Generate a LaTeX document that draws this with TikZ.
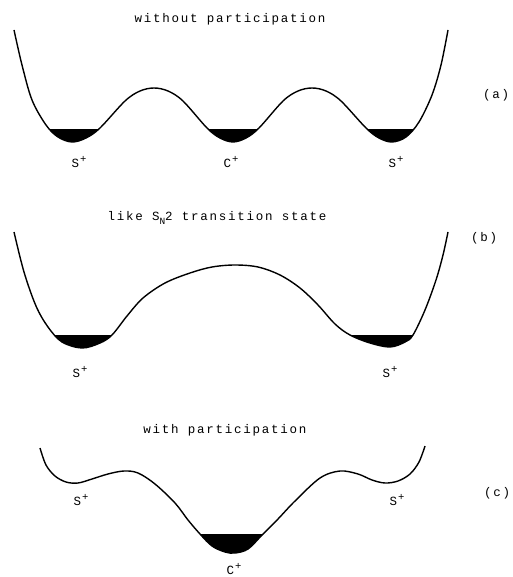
\documentclass[tikz,border=0pt]{standalone}
\usepackage{fontspec}
\usepackage{tikz}
\newfontfamily\labfont[LetterSpace=14]{Liberation Mono}
\newcommand{\cation}[1]{#1\kern1pt\raisebox{0.85ex}{\fontsize{10.5}{10.5}\selectfont+}}
% the three energy profiles
\newcommand{\wellA}{plot[smooth,tension=0.55] coordinates {(14,30) (22,65) (32,100) (46,125) (58,137) (72,142) (86,138) (100,128) (125,101) (140,91) (154,88) (168,91) (183,101) (207,128) (220,138) (233,142) (246,138) (259,128) (283,101) (298,91) (312,88) (326,91) (341,101) (366,128) (379,138) (392,142) (406,137) (419,122) (432,95) (441,65) (448,30)}}
\newcommand{\wellB}{plot[smooth,tension=0.55] coordinates {(14,232) (24,272) (36,306) (48,327) (62,342) (82,348) (100,343) (112,335) (127,316) (143,298) (165,283) (190,273) (212,267) (235,265) (258,267) (280,275) (300,288) (318,305) (335,324) (350,335) (370,343) (390,347) (405,342) (413,335) (425,310) (436,280) (443,255) (448,232)}}
\newcommand{\wellC}{plot[smooth,tension=0.55] coordinates {(40,448) (46,465) (55,476) (66,482) (78,483) (92,479) (108,474) (124,471) (138,473) (155,484) (175,503) (188,520) (200,534) (212,546) (225,552) (235,553) (248,549) (263,534) (278,519) (295,501) (320,478) (340,471) (358,474) (372,480) (385,483) (398,481) (410,474) (419,462) (425,446)}}

\begin{document}
\begin{tikzpicture}[x=1pt,y=-1pt,
  curve/.style={line width=1.4pt,line join=round},
  lbl/.style={font=\labfont\fontsize{12.5}{14}\selectfont,inner sep=0pt}]
  \useasboundingbox (0,0) rectangle (512,577);

  % (a)
  \begin{scope}
    \clip (0,130) rectangle (512,200);
    \fill \wellA -- (448,0) -- (14,0) -- cycle;
  \end{scope}
  \draw[curve] \wellA;
  \node[lbl] (ttlA) at (230,19) {without participation};
  \node[lbl] (sA1) at (79,162) {\cation{S}};
  \node[lbl] (cA) at (231,162) {\cation{C}};
  \node[lbl] (sA2) at (396,162) {\cation{S}};
  \node[lbl] (tagA) at (496,95) {(a)};

  % (b)
  \begin{scope}
    \clip (0,335) rectangle (512,365);
    \fill \wellB -- (448,200) -- (14,200) -- cycle;
  \end{scope}
  \draw[curve] \wellB;
  \node[lbl] (ttlB) at (217,218) {like S\raisebox{-0.6ex}{\fontsize{9.5}{9.5}\selectfont N}2 transition state};
  \node[lbl] (sB1) at (80,372) {\cation{S}};
  \node[lbl] (sB2) at (390,372) {\cation{S}};
  \node[lbl] (tagB) at (484,238) {(b)};

  % (c)
  \begin{scope}
    \clip (0,534) rectangle (512,577);
    \fill \wellC -- (425,380) -- (40,380) -- cycle;
  \end{scope}
  \draw[curve] \wellC;
  \node[lbl] (ttlC) at (225,430) {with participation};
  \node[lbl] (sC1) at (81,500) {\cation{S}};
  \node[lbl] (sC2) at (397,500) {\cation{S}};
  \node[lbl] (cC) at (234,569) {\cation{C}};
  \node[lbl] (tagC) at (497,493) {(c)};
\end{tikzpicture}
\end{document}
